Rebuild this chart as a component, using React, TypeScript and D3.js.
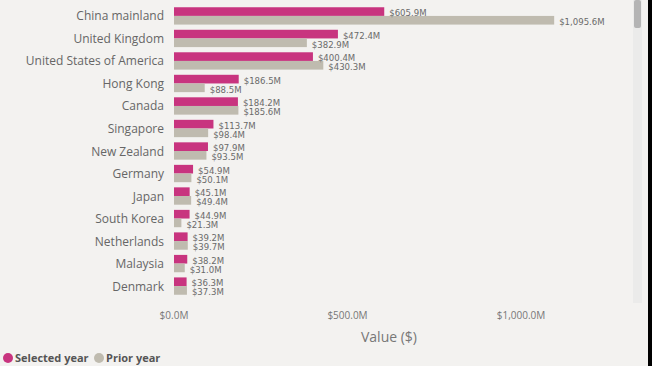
import React from "react";
import * as d3 from "d3";

const categories = ["China mainland","United Kingdom","United States of America","Hong Kong","Canada","Singapore","New Zealand","Germany","Japan","South Korea","Netherlands","Malaysia","Denmark"];
const selectedYear = [605.9,472.4,400.4,186.5,184.2,113.7,97.9,54.9,45.1,44.9,39.2,38.2,36.3];
const priorYear = [1095.6,382.9,430.3,88.5,185.6,98.4,93.5,50.1,49.4,21.3,39.7,31.0,37.3];
const ticks = [0, 500, 1000];
const seriesNames = ["Selected year", "Prior year"];

const W = 652, H = 366;
const PINK = "#c8347f";
const GREY = "#bfbbaf";
const fmt = (v: number) => "$" + d3.format(",.1f")(v) + "M";

export default function App() {
  const x = d3.scaleLinear().domain([0, 1000]).range([174, 521]);
  const y = d3.scaleBand<string>().domain(categories).range([5, 297]).paddingInner(0.23).paddingOuter(0.1);
  const bh = y.bandwidth() / 2;
  const labelFont = "'DejaVu Sans Condensed', 'Liberation Sans Narrow', sans-serif";
  const uiFont = "'Open Sans', 'Noto Sans', sans-serif";
  return (
    <svg width={W} height={H} style={{ position: "absolute", left: 0, top: 0, background: "#f3f2f0" }}>
      <rect x={0} y={0} width={W} height={H} fill="#f3f2f0" />
      {categories.map((c, i) => {
        const y0 = y(c)!;
        return (
          <g key={c}>
            <text x={164} y={y0 + bh + 4.5} textAnchor="end" fontFamily={uiFont} fontSize={12} fill="#666">{c}</text>
            <rect x={x(0)} y={y0} width={x(selectedYear[i]) - x(0)} height={bh} fill={PINK} />
            <rect x={x(0)} y={y0 + bh} width={x(priorYear[i]) - x(0)} height={bh} fill={GREY} />
            <text x={x(selectedYear[i]) + 5} y={y0 + bh / 2 + 4.5} fontFamily={labelFont} fontSize={9.5} fill="#6a6a6a">{fmt(selectedYear[i])}</text>
            <text x={x(priorYear[i]) + 5} y={y0 + bh + bh / 2 + 5} fontFamily={labelFont} fontSize={9.5} fill="#6a6a6a">{fmt(priorYear[i])}</text>
          </g>
        );
      })}
      {ticks.map(t => (
        <text key={t} x={x(t)} y={319} textAnchor="middle" fontFamily={uiFont} fontSize={10} fill="#777">{fmt(t)}</text>
      ))}
      <text x={389} y={342} textAnchor="middle" fontFamily={uiFont} fontSize={14} fill="#777">Value ($)</text>
      <g fontFamily={uiFont} fontSize={11} fontWeight="bold" fill="#555">
        <circle cx={8} cy={358} r={5} fill={PINK} />
        <text x={15} y={362}>{seriesNames[0]}</text>
        <circle cx={99} cy={358} r={5} fill={GREY} />
        <text x={106} y={362}>{seriesNames[1]}</text>
      </g>
      <rect x={633} y={0} width={9} height={303} fill="#ebebea" />
      <rect x={634} y={0} width={7} height={28} rx={2} fill="#b4b4b4" />
      <rect x={648} y={0} width={4} height={H} fill="#000" />
    </svg>
  );
}
